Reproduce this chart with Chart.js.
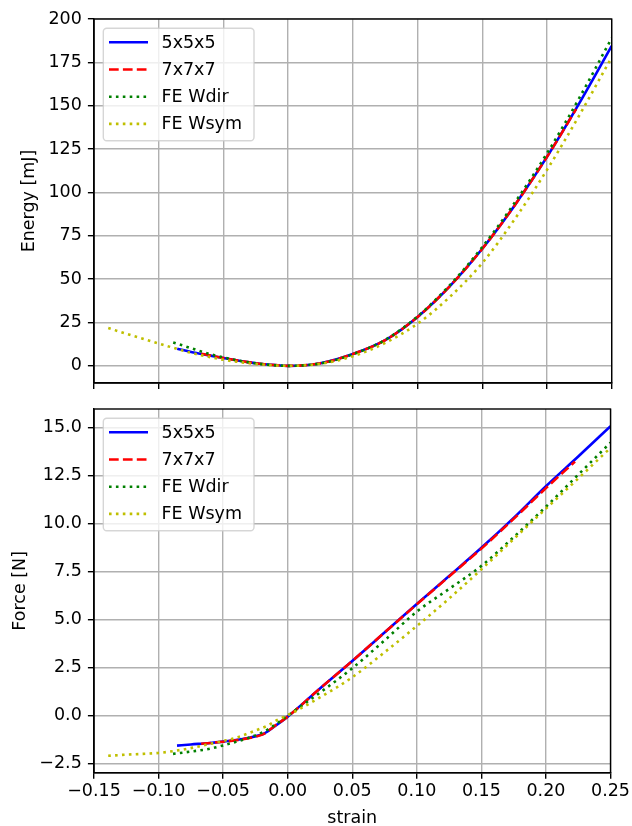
<!DOCTYPE html>
<html>
<head>
<meta charset="utf-8">
<title>Energy and force vs strain</title>
<script src="https://cdn.jsdelivr.net/npm/chart.js@4.4.0/dist/chart.umd.min.js"></script>
<style>
body{margin:0;background:#fff;}
#wrap{position:relative;width:632px;height:826px;overflow:hidden;}
canvas{position:absolute;left:0;}
#cEnergy{top:0;}
#cForce{top:390px;}
</style>
</head>
<body>
<div id="wrap">
<canvas id="cEnergy" width="632" height="400"></canvas>
<canvas id="cForce" width="632" height="436"></canvas>
</div>
<script>
// values

var strainTicks = [-0.15, -0.10, -0.05, 0.00, 0.05, 0.10, 0.15, 0.20, 0.25];
var energyTicks = [0, 25, 50, 75, 100, 125, 150, 175, 200];
var forceTicks = [-2.5, 0, 2.5, 5, 7.5, 10, 12.5, 15];

var seriesNames = ['5x5x5', '7x7x7', 'FE Wdir', 'FE Wsym'];

// 5x5x5
var strain5 = [-0.0857, -0.075, -0.06, -0.05, -0.04, -0.03, -0.022, -0.018, -0.01, 0, 0.025, 0.05, 0.075, 0.1, 0.125, 0.15, 0.175, 0.2, 0.225, 0.25];
var energy5 = [9.9, 8.0, 5.9, 4.5, 3.2, 2.0, 1.2, 0.9, 0.4, 0, 1.5, 6.8, 14.8, 28.2, 46, 67.5, 92.5, 120.5, 151.5, 184.5];
var force5 = [-1.56, -1.50, -1.42, -1.35, -1.27, -1.15, -1.02, -0.92, -0.55, -0.05, 1.42, 2.85, 4.33, 5.82, 7.27, 8.74, 10.3, 11.95, 13.5, 15.08];

// 7x7x7
var strain7 = [-0.067, -0.06, -0.05, -0.04, -0.03, -0.022, -0.018, -0.01, 0, 0.025, 0.05, 0.075, 0.1, 0.125, 0.15, 0.175, 0.2, 0.2225];
var energy7 = [7.0, 5.9, 4.5, 3.2, 2.0, 1.2, 0.9, 0.4, 0, 1.5, 6.8, 14.8, 28.2, 46, 67.5, 92.5, 120.5, 148];
var force7 = [-1.46, -1.42, -1.36, -1.28, -1.17, -1.04, -0.93, -0.53, -0.05, 1.42, 2.85, 4.33, 5.8, 7.25, 8.7, 10.25, 11.85, 13.23];

// FE Wdir
var strainWdir = [-0.0888, -0.075, -0.06, -0.05, -0.04, -0.03, -0.02, -0.014, -0.007, 0, 0.025, 0.05, 0.075, 0.1, 0.125, 0.15, 0.175, 0.2, 0.225, 0.25];
var energyWdir = [13.5, 10.2, 6.7, 4.9, 3.3, 2.0, 1.0, 0.55, 0.15, 0, 1.4, 6.7, 15.0, 28.5, 46.6, 68.5, 94, 122.5, 154.5, 189];
var forceWdir = [-1.99, -1.87, -1.72, -1.55, -1.36, -1.15, -0.88, -0.66, -0.34, 0, 1.2, 2.47, 3.92, 5.42, 6.6, 7.8, 9.3, 10.88, 12.55, 14.22];

// FE Wsym
var strainWsym = [-0.139, -0.125, -0.1, -0.086, -0.076, -0.06, -0.05, -0.04, -0.024, -0.015, -0.008, 0, 0.025, 0.05, 0.075, 0.1, 0.125, 0.15, 0.175, 0.2, 0.225, 0.25];
var energyWsym = [21.8, 18.5, 12.9, 9.8, 7.7, 5.0, 3.5, 2.4, 1.0, 0.45, 0.12, 0, 1.2, 5.5, 13.2, 24.3, 39.8, 59.3, 84.5, 113, 144.5, 178];
var forceWsym = [-2.09, -2.03, -1.94, -1.82, -1.70, -1.47, -1.32, -1.15, -0.75, -0.5, -0.22, 0.02, 0.95, 2.0, 3.3, 4.67, 6.1, 7.62, 9.2, 10.78, 12.35, 13.95];

// styles
var FONT = 'DejaVu Sans';
var FSIZE = 17.5;
var lineStyles = [
	{color: '#0000ff', dash: []},
	{color: '#ff0000', dash: [9.7, 4.2]},
	{color: '#008000', dash: [2.6, 4.3]},
	{color: '#bfbf00', dash: [2.6, 4.3]}
];

Chart.defaults.font.family = FONT;
Chart.defaults.font.size = FSIZE;
Chart.defaults.color = '#000';

function toPoints(xs, ys){
	var out = [];
	for(var i = 0; i < xs.length; i++){
		out.push({x: xs[i], y: ys[i]});
	}
	return out;
}

function minus(s){
	return s.replace('-', '\u2212');
}

function makeDatasets(xsList, ysList){
	var sets = [];
	for(var i = 0; i < xsList.length; i++){
		sets.push({
			label: seriesNames[i],
			data: toPoints(xsList[i], ysList[i]),
			showLine: true,
			borderColor: lineStyles[i].color,
			backgroundColor: lineStyles[i].color,
			borderWidth: 2.6,
			borderDash: lineStyles[i].dash,
			borderCapStyle: 'butt',
			pointRadius: 0,
			cubicInterpolationMode: 'monotone',
			order: xsList.length - i   // later series on top, like matplotlib
		});
	}
	return sets;
}

// black frame round the plot area
var framePlugin = {
	id: 'frame',
	afterDatasetsDraw: function(chart){
		var a = chart.chartArea, ctx = chart.ctx;
		ctx.save();
		ctx.strokeStyle = '#000';
		ctx.lineWidth = 1.4;
		ctx.strokeRect(a.left, a.top, a.right - a.left, a.bottom - a.top);
		ctx.restore();
	}
};

// matplotlib style legend in the upper left corner
var legendPlugin = {
	id: 'boxLegend',
	afterDraw: function(chart){
		var a = chart.chartArea, ctx = chart.ctx;
		var sets = chart.data.datasets;
		ctx.save();
		ctx.beginPath();
		ctx.roundRect(a.left + 9.3, a.top + 9.3, 150.7, 112.4, 3.5);
		ctx.fillStyle = 'rgba(255,255,255,0.8)';
		ctx.fill();
		ctx.strokeStyle = 'rgba(204,204,204,0.8)';
		ctx.lineWidth = 1.4;
		ctx.stroke();
		for(var i = 0; i < sets.length; i++){
			var y = a.top + 23.3 + i * 27.2;
			ctx.beginPath();
			ctx.setLineDash(sets[i].borderDash);
			ctx.lineCap = 'butt';
			ctx.strokeStyle = sets[i].borderColor;
			ctx.lineWidth = sets[i].borderWidth;
			ctx.moveTo(a.left + 15, y);
			ctx.lineTo(a.left + 54, y);
			ctx.stroke();
			ctx.setLineDash([]);
			ctx.fillStyle = '#000';
			ctx.font = FSIZE + 'px "' + FONT + '"';
			ctx.textBaseline = 'middle';
			ctx.textAlign = 'left';
			ctx.fillText(sets[i].label, a.left + 67.5, y + 1);
		}
		ctx.restore();
	}
};

function gridOpts(){
	return {color: '#b0b0b0', lineWidth: 1.4, tickColor: '#000', tickWidth: 1.4, tickLength: 6.1};
}

function makeChart(id, datasets, yTicks, yMin, yMax, yFmt, yTitle, yTitlePad, bottom){
	return new Chart(document.getElementById(id), {
		type: 'scatter',
		data: {datasets: datasets},
		plugins: [framePlugin, legendPlugin],
		options: {
			responsive: false,
			animation: false,
			devicePixelRatio: 1,
			events: [],
			layout: {padding: {top: 19, right: 20.3, left: 0, bottom: 0}},
			plugins: {legend: {display: false}, tooltip: {enabled: false}},
			scales: {
				x: {
					type: 'linear', min: -0.15, max: 0.25,
					grid: gridOpts(),
					border: {display: true, color: '#000', width: 1.4},
					ticks: {
						padding: 2, maxRotation: 0, autoSkip: false,
						callback: function(v){ return bottom ? minus(v.toFixed(2)) : ''; }
					},
					afterBuildTicks: function(s){ s.ticks = strainTicks.map(function(v){ return {value: v}; }); },
					afterFit: function(s){ s.height = bottom ? 53.3 : 17; },
					title: {display: bottom, text: 'strain', font: {size: FSIZE, lineHeight: 0.85}, padding: {top: 0, bottom: 0}}
				},
				y: {
					type: 'linear', min: yMin, max: yMax,
					grid: gridOpts(),
					border: {display: true, color: '#000', width: 1.4},
					ticks: {padding: 6.1, autoSkip: false, callback: function(v){ return minus(yFmt(v)); }},
					afterBuildTicks: function(s){ s.ticks = yTicks.map(function(v){ return {value: v}; }); },
					afterFit: function(s){ s.width = 94; },
					title: {display: true, text: yTitle, font: {size: FSIZE, lineHeight: 1.2}, padding: {top: yTitlePad, bottom: 0}}
				}
			}
		}
	});
}

var energyChart = makeChart('cEnergy',
	makeDatasets([strain5, strain7, strainWdir, strainWsym], [energy5, energy7, energyWdir, energyWsym]),
	energyTicks, -9.9, 200, function(v){ return v.toFixed(0); }, 'Energy [mJ]', 19.2, false);

var forceChart = makeChart('cForce',
	makeDatasets([strain5, strain7, strainWdir, strainWsym], [force5, force7, forceWdir, forceWsym]),
	forceTicks, -2.97, 15.97, function(v){ return v.toFixed(1); }, 'Force [N]', 9.5, true);
</script>
</body>
</html>
